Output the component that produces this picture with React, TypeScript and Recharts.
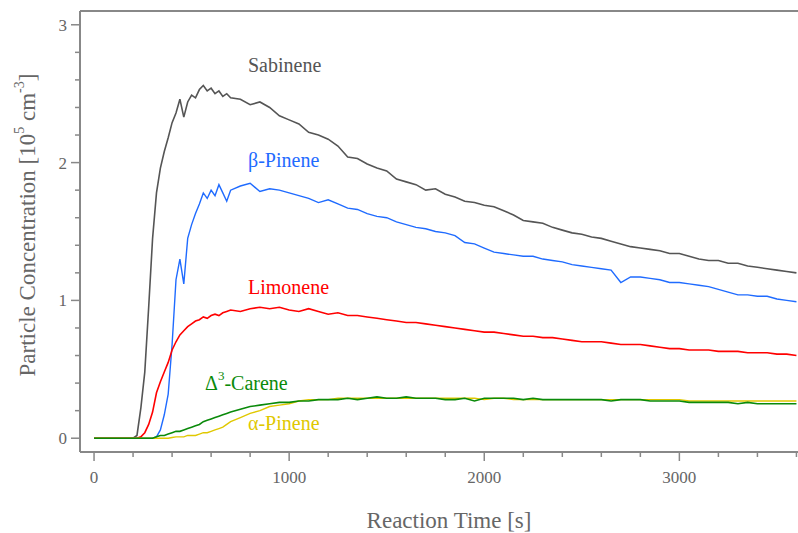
import { LineChart, Line, XAxis, YAxis, ReferenceLine, ReferenceDot } from 'recharts';

// reaction time [s]
const times = [
  0, 100, 200, 220, 240, 260, 280, 300, 320, 340, 360, 380, 400, 420, 440, 460, 480, 500, 520, 540,
  560, 580, 600, 620, 640, 660, 680, 700,
  750, 800, 850, 900, 950, 1000, 1050, 1100, 1150, 1200, 1250, 1300, 1350, 1400, 1450, 1500, 1550, 1600,
  1650, 1700, 1750, 1800, 1850, 1900, 1950, 2000, 2050, 2100, 2150, 2200, 2250, 2300, 2350, 2400, 2450,
  2500, 2550, 2600, 2650, 2700, 2750, 2800, 2850, 2900, 2950, 3000, 3050, 3100, 3150, 3200, 3250, 3300,
  3350, 3400, 3450, 3500, 3550, 3600,
];

// particle concentration [10^5 cm^-3]
const sabinene = [
  0, 0, 0, 0.02, 0.22, 0.48, 0.95, 1.45, 1.78, 1.96, 2.08, 2.18, 2.29, 2.36, 2.46, 2.33, 2.44, 2.49, 2.47, 2.53,
  2.56, 2.52, 2.54, 2.5, 2.52, 2.48, 2.5, 2.47,
  2.46, 2.42, 2.44, 2.4, 2.34, 2.31, 2.28, 2.22, 2.2, 2.17, 2.12, 2.04, 2.03, 1.99, 1.96, 1.94, 1.88, 1.86,
  1.84, 1.8, 1.81, 1.77, 1.75, 1.72, 1.71, 1.69, 1.68, 1.65, 1.62, 1.58, 1.57, 1.56, 1.53, 1.51, 1.49,
  1.48, 1.46, 1.45, 1.43, 1.41, 1.39, 1.38, 1.37, 1.36, 1.34, 1.34, 1.32, 1.3, 1.29, 1.29, 1.27, 1.27,
  1.25, 1.24, 1.23, 1.22, 1.21, 1.2,
];
const betaPinene = [
  0, 0, 0, 0, 0, 0, 0, 0, 0.01, 0.06, 0.17, 0.32, 0.68, 1.15, 1.3, 1.12, 1.45, 1.55, 1.63, 1.7,
  1.78, 1.74, 1.8, 1.76, 1.84, 1.78, 1.72, 1.8,
  1.83, 1.85, 1.79, 1.81, 1.8, 1.78, 1.76, 1.74, 1.71, 1.73, 1.7, 1.67, 1.66, 1.63, 1.61, 1.6, 1.57, 1.55,
  1.53, 1.52, 1.5, 1.49, 1.47, 1.42, 1.41, 1.38, 1.35, 1.34, 1.33, 1.32, 1.32, 1.3, 1.29, 1.28, 1.26,
  1.25, 1.24, 1.23, 1.22, 1.13, 1.17, 1.17, 1.16, 1.15, 1.13, 1.13, 1.12, 1.11, 1.1, 1.08, 1.06, 1.04,
  1.04, 1.03, 1.03, 1.01, 1.0, 0.99,
];
const limonene = [
  0, 0, 0, 0, 0.01, 0.04, 0.1, 0.19, 0.33, 0.41, 0.48, 0.55, 0.64, 0.7, 0.75, 0.78, 0.81, 0.83, 0.85, 0.86,
  0.88, 0.87, 0.89, 0.9, 0.89, 0.91, 0.92, 0.93,
  0.92, 0.94, 0.95, 0.94, 0.95, 0.93, 0.92, 0.94, 0.92, 0.9, 0.91, 0.89, 0.89, 0.88, 0.87, 0.86, 0.85, 0.84,
  0.84, 0.83, 0.82, 0.81, 0.8, 0.79, 0.78, 0.77, 0.77, 0.76, 0.75, 0.74, 0.74, 0.73, 0.73, 0.72, 0.71,
  0.7, 0.7, 0.7, 0.69, 0.68, 0.68, 0.68, 0.67, 0.66, 0.65, 0.65, 0.64, 0.64, 0.64, 0.63, 0.63, 0.63,
  0.62, 0.62, 0.62, 0.61, 0.61, 0.6,
];
const carene = [
  0, 0, 0, 0, 0, 0, 0, 0, 0.01, 0.02, 0.02, 0.03, 0.04, 0.05, 0.05, 0.06, 0.07, 0.08, 0.09, 0.1,
  0.12, 0.13, 0.14, 0.15, 0.16, 0.17, 0.18, 0.19,
  0.21, 0.23, 0.24, 0.25, 0.26, 0.26, 0.27, 0.27, 0.28, 0.28, 0.28, 0.29, 0.28, 0.29, 0.3, 0.29, 0.29, 0.3,
  0.29, 0.29, 0.29, 0.28, 0.28, 0.29, 0.27, 0.29, 0.29, 0.29, 0.29, 0.28, 0.29, 0.28, 0.28, 0.28, 0.28,
  0.28, 0.28, 0.28, 0.27, 0.28, 0.28, 0.28, 0.27, 0.27, 0.27, 0.27, 0.26, 0.26, 0.26, 0.26, 0.26, 0.25,
  0.26, 0.25, 0.25, 0.25, 0.25, 0.25,
];
const alphaPinene = [
  0, 0, 0, 0, 0, 0, 0, 0, 0, 0, 0, 0, 0.005, 0.01, 0.01, 0.01, 0.02, 0.02, 0.02, 0.03,
  0.04, 0.04, 0.05, 0.06, 0.07, 0.08, 0.1, 0.12,
  0.15, 0.18, 0.2, 0.23, 0.24, 0.25, 0.27, 0.28, 0.28, 0.28, 0.29, 0.29, 0.29, 0.29, 0.29, 0.29, 0.29, 0.29,
  0.29, 0.29, 0.29, 0.29, 0.29, 0.29, 0.29, 0.28, 0.29, 0.29, 0.28, 0.28, 0.28, 0.28, 0.28, 0.28, 0.28,
  0.28, 0.28, 0.28, 0.28, 0.28, 0.28, 0.28, 0.28, 0.28, 0.28, 0.28, 0.27, 0.27, 0.27, 0.27, 0.27, 0.27,
  0.27, 0.27, 0.27, 0.27, 0.27, 0.27,
];

const xTicks = [0, 200, 400, 600, 800, 1000, 1200, 1400, 1600, 1800, 2000, 2200, 2400, 2600, 2800, 3000, 3200, 3400, 3600];
const yTicks = [0, 0.2, 0.4, 0.6, 0.8, 1, 1.2, 1.4, 1.6, 1.8, 2, 2.2, 2.4, 2.6, 2.8, 3];

const data = times.map((t, i) => ({
  t,
  sabinene: sabinene[i],
  betaPinene: betaPinene[i],
  limonene: limonene[i],
  carene: carene[i],
  alphaPinene: alphaPinene[i],
}));

// curve name labels, placed in data coordinates
const curveLabels = [
  { key: 'sab', t: 789, v: 2.71, color: '#555555', text: 'Sabinene' },
  { key: 'bp', t: 789, v: 2.02, color: '#1f6bff', text: 'β-Pinene' },
  { key: 'lim', t: 789, v: 1.1, color: '#ff0000', text: 'Limonene' },
  { key: 'car', t: 569, v: 0.4, color: '#0a8a0a', text: 'carene' },
  { key: 'ap', t: 789, v: 0.11, color: '#e0c800', text: 'α-Pinene' },
];

const AXIS = '#888888';
const TEXT = '#666666';
const FONT = '"Liberation Serif", "DejaVu Serif", serif';

const XTick = ({ x, y, payload }: any) => {
  const major = payload.value % 1000 === 0;
  return (
    <g>
      <line x1={x} x2={x} y1={y} y2={y + (major ? 9 : 5)} stroke={AXIS} strokeWidth={1.5} />
      {major && (
        <text x={x} y={y + 31} textAnchor="middle" fill={TEXT} fontSize={17} fontFamily={FONT}>
          {payload.value}
        </text>
      )}
    </g>
  );
};

const YTick = ({ x, y, payload }: any) => {
  const major = Math.abs(payload.value - Math.round(payload.value)) < 1e-6;
  return (
    <g>
      <line x1={x - (major ? 9 : 5)} x2={x} y1={y} y2={y} stroke={AXIS} strokeWidth={1.5} />
      {major && (
        <text x={x - 13} y={y + 6} textAnchor="end" fill={TEXT} fontSize={17} fontFamily={FONT}>
          {Math.round(payload.value)}
        </text>
      )}
    </g>
  );
};

const XTitle = () => (
  <text x={449} y={528} textAnchor="middle" fill={TEXT} fontSize={23} fontFamily={FONT}>
    Reaction Time [s]
  </text>
);

const YTitle = () => (
  <text
    x={27}
    y={225}
    transform="rotate(-90, 27, 225)"
    textAnchor="middle"
    dominantBaseline="central"
    fill={TEXT}
    fontSize={23}
    fontFamily={FONT}
  >
    Particle Concentration [10
    <tspan dy={-8} fontSize={14}>5</tspan>
    <tspan dy={8}> cm</tspan>
    <tspan dy={-8} fontSize={14}>-3</tspan>
    <tspan dy={8}>]</tspan>
  </text>
);

const CurveLabel = ({ cx, cy, color, text }: any) => (
  <text x={cx} y={cy} dominantBaseline="central" fill={color} fontSize={20} fontFamily={FONT}>
    {text === 'carene' ? (
      <>
        Δ<tspan dy={-8} fontSize={13}>3</tspan>
        <tspan dy={8}>-Carene</tspan>
      </>
    ) : (
      text
    )}
  </text>
);

export default function App() {
  return (
    <div style={{ position: 'absolute', left: 0, top: 0, background: '#fff' }}>
      <LineChart
        width={798}
        height={533}
        data={data}
        margin={{ top: 11, right: 0, bottom: 0, left: 0 }}
        style={{ fontFamily: FONT }}
      >
        <XAxis
          dataKey="t"
          type="number"
          domain={[-72, 3608]}
          allowDataOverflow
          ticks={xTicks}
          interval={0}
          tickSize={0}
          tickMargin={0}
          tickLine={false}
          tick={<XTick />}
          axisLine={{ stroke: AXIS, strokeWidth: 2 }}
          height={81}
          label={<XTitle />}
        />
        <YAxis
          type="number"
          domain={[-0.1, 3.1]}
          allowDataOverflow
          ticks={yTicks}
          interval={0}
          tickSize={0}
          tickMargin={0}
          tickLine={false}
          tick={<YTick />}
          axisLine={{ stroke: AXIS, strokeWidth: 2 }}
          width={80}
          label={<YTitle />}
        />
        <ReferenceLine y={3.1} stroke={AXIS} strokeWidth={2} />
        <Line type="linear" dataKey="sabinene" stroke="#555555" strokeWidth={1.6} dot={false} isAnimationActive={false} />
        <Line type="linear" dataKey="betaPinene" stroke="#1f6bff" strokeWidth={1.4} dot={false} isAnimationActive={false} />
        <Line type="linear" dataKey="limonene" stroke="#ff0000" strokeWidth={1.6} dot={false} isAnimationActive={false} />
        <Line type="linear" dataKey="alphaPinene" stroke="#e0c800" strokeWidth={1.4} dot={false} isAnimationActive={false} />
        <Line type="linear" dataKey="carene" stroke="#0a8a0a" strokeWidth={1.6} dot={false} isAnimationActive={false} />
        {curveLabels.map((l) => (
          <ReferenceDot
            key={l.key}
            x={l.t}
            y={l.v}
            r={0}
            shape={(p: any) => <CurveLabel cx={p.cx} cy={p.cy} color={l.color} text={l.text} />}
          />
        ))}
      </LineChart>
    </div>
  );
}
